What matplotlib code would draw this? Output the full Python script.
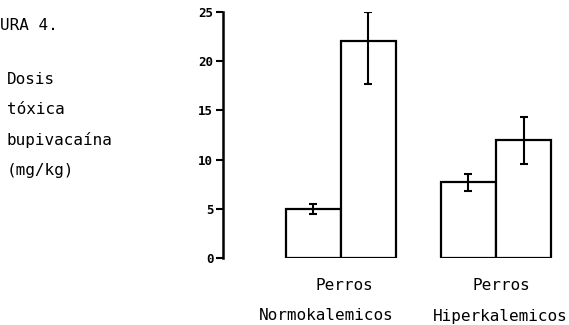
import matplotlib
matplotlib.use("Agg")
import matplotlib.pyplot as plt
import numpy as np

group_line1 = ["Perros", "Perros"]
group_line2 = ["Normokalemicos", "Hiperkalemicos"]
bar_left = [5.0, 7.7]
bar_right = [22.1, 12.0]
err_left_lo = [4.5, 6.8]
err_left_hi = [5.5, 8.5]
err_right_lo = [17.7, 9.6]
err_right_hi = [25.0, 14.3]
yticks = [0, 5, 10, 15, 20, 25]

mono = "DejaVu Sans Mono"
fig = plt.figure(figsize=(5.69, 3.25), dpi=100)
ax = fig.add_axes([223/569, 1-258/325, 1-223/569, (258-12)/325])

x = np.arange(len(group_line1))
w = 0.355
bl = np.array(bar_left); br = np.array(bar_right)
ax.bar(x - w/2, bl, width=w, facecolor="white", edgecolor="black", linewidth=1.6)
ax.bar(x + w/2, br, width=w, facecolor="white", edgecolor="black", linewidth=1.6)
ax.errorbar(x - w/2, bl, yerr=[bl - np.array(err_left_lo), np.array(err_left_hi) - bl],
            fmt="none", ecolor="black", elinewidth=1.5, capsize=3, capthick=1.5)
ax.errorbar(x + w/2, br, yerr=[br - np.array(err_right_lo), np.array(err_right_hi) - br],
            fmt="none", ecolor="black", elinewidth=1.5, capsize=3, capthick=1.5)

ax.set_xlim(-0.761, 1.471)
ax.set_ylim(0, 25)
for s in ["top", "right", "bottom"]:
    ax.spines[s].set_visible(False)
ax.spines["left"].set_linewidth(1.8)
ax.set_yticks(yticks)
ax.set_yticklabels([str(t) for t in yticks], fontfamily=mono, fontweight="bold", fontsize=9)
ax.tick_params(axis="y", length=5, width=1.5, pad=2)
ax.set_xticks([])

line1_dx = [3, 5]
line2_dx = [-15, 4]
for i in range(len(group_line1)):
    ax.annotate(group_line1[i], xy=(x[i], 0), xycoords=("data", "axes fraction"),
                xytext=(line1_dx[i], -28), textcoords="offset pixels",
                ha="center", va="center", fontfamily=mono, fontsize=11.5)
    ax.annotate(group_line2[i], xy=(x[i], 0), xycoords=("data", "axes fraction"),
                xytext=(line2_dx[i], -58), textcoords="offset pixels",
                ha="center", va="center", fontfamily=mono, fontsize=11.5)

fig.text(0/569, 1-25/325, "URA 4.", fontfamily=mono, fontsize=11.5, va="center", ha="left")
for i, t in enumerate(["Dosis", "tóxica", "bupivacaína", "(mg/kg)"]):
    fig.text(7/569, 1-(80+30*i)/325, t, fontfamily=mono, fontsize=11.5, va="center", ha="left")

fig.savefig("out.png", dpi=100)
